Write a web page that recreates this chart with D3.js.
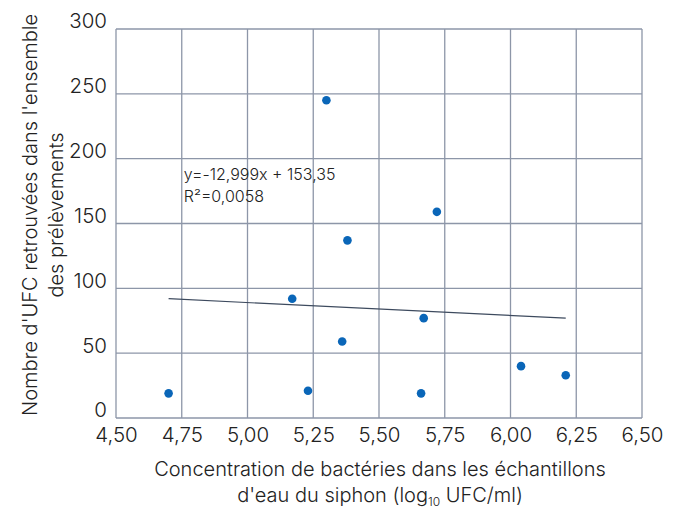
<!DOCTYPE html>
<html>
<head>
<meta charset="utf-8">
<script src="https://cdn.jsdelivr.net/npm/d3@7"></script>
<style>
    body { margin: 0; background: #fff; }
    text { font-family: Inter, "Noto Sans", sans-serif; fill: #222; }
</style>
</head>
<body>
<script>
// data
const xs = [4.70, 5.17, 5.23, 5.36, 5.30, 5.72, 5.38, 5.67, 5.66, 6.04, 6.21];
const ys = [19, 92, 21, 59, 245, 159, 137, 77, 19, 40, 33];
const trend_x = [4.70, 6.21];
const trend_y = [92, 77];
const x_ticks = [4.5, 4.75, 5.0, 5.25, 5.5, 5.75, 6.0, 6.25, 6.5];
const y_ticks = [0, 50, 100, 150, 200, 250, 300];
const equation = ['y=-12,999x + 153,35', 'R²=0,0058'];

const width = 680,
    height = 509;

const margin = {top: 29, right: 38, bottom: 91, left: 116};

const svg = d3.select('body')
    .append('svg')
    .attr('width', width)
    .attr('height', height);

const x = d3.scaleLinear()
    .domain([4.5, 6.5])
    .range([margin.left, width - margin.right]);

const y = d3.scaleLinear()
    .domain([0, 300])
    .range([height - margin.bottom, margin.top]);

const fmt = d3.format('.2f');
const grid_color = '#8d96a8';

// grid
svg.append('g')
    .selectAll('line')
    .data(x_ticks)
    .enter().append('line')
    .attr('x1', d => x(d)).attr('x2', d => x(d))
    .attr('y1', y(0)).attr('y2', y(300))
    .attr('stroke', grid_color)
    .attr('stroke-width', 1.3);

svg.append('g')
    .selectAll('line')
    .data(y_ticks)
    .enter().append('line')
    .attr('x1', x(4.5)).attr('x2', x(6.5))
    .attr('y1', d => y(d)).attr('y2', d => y(d))
    .attr('stroke', grid_color)
    .attr('stroke-width', 1.3);

// axes (labels only)
const x_axis = svg.append('g')
    .attr('transform', 'translate(0,' + y(0) + ')')
    .call(d3.axisBottom(x).tickValues(x_ticks).tickSize(0).tickPadding(9)
        .tickFormat(d => fmt(d).replace('.', ',')));
x_axis.select('.domain').remove();
x_axis.selectAll('text')
    .style('font-size', '20.5px')
    .style('font-weight', 300)
    .attr('fill', '#222');

const y_axis = svg.append('g')
    .attr('transform', 'translate(' + x(4.5) + ',0)')
    .call(d3.axisLeft(y).tickValues(y_ticks).tickSize(0).tickPadding(9));
y_axis.select('.domain').remove();
y_axis.selectAll('text')
    .attr('dy', '-0.05em')
    .style('font-size', '20.5px')
    .style('font-weight', 300)
    .attr('fill', '#222');

// trend line
svg.append('path')
    .datum(trend_x.map((d, i) => [d, trend_y[i]]))
    .attr('d', d3.line().x(d => x(d[0])).y(d => y(d[1])))
    .attr('fill', 'none')
    .attr('stroke', '#3d4a5e')
    .attr('stroke-width', 1.2);

// points
svg.append('g')
    .selectAll('circle')
    .data(xs.map((d, i) => [d, ys[i]]))
    .enter().append('circle')
    .attr('cx', d => x(d[0]))
    .attr('cy', d => y(d[1]))
    .attr('r', 4.3)
    .attr('fill', '#0a66b8');

// equation
svg.append('g')
    .selectAll('text')
    .data(equation)
    .enter().append('text')
    .attr('x', x(4.75) + 2)
    .attr('y', (d, i) => 180 + i * 22)
    .style('font-size', '16px')
    .style('font-weight', 300)
    .text(d => d);

// axis titles
const x_title = svg.append('text')
    .attr('text-anchor', 'middle')
    .style('font-size', '20px')
    .style('font-weight', 300);
x_title.append('tspan')
    .attr('x', 380).attr('y', 476)
    .text('Concentration de bactéries dans les échantillons');
const l2 = x_title.append('tspan')
    .attr('x', 380).attr('y', 502);
l2.append('tspan').text("d'eau du siphon (log");
l2.append('tspan').attr('dy', 4).style('font-size', '12px').text('10');
l2.append('tspan').attr('dy', -4).text(' UFC/ml)');

const y_title = svg.append('text')
    .attr('text-anchor', 'middle')
    .attr('transform', 'translate(37,' + 215 + ') rotate(-90)')
    .style('font-size', '20px')
    .style('font-weight', 300);
y_title.append('tspan').attr('x', 0).attr('y', 0)
    .text("Nombre d'UFC retrouvées dans l'ensemble");
y_title.append('tspan').attr('x', 0).attr('y', 26)
    .text('des prélèvements');
</script>
</body>
</html>
